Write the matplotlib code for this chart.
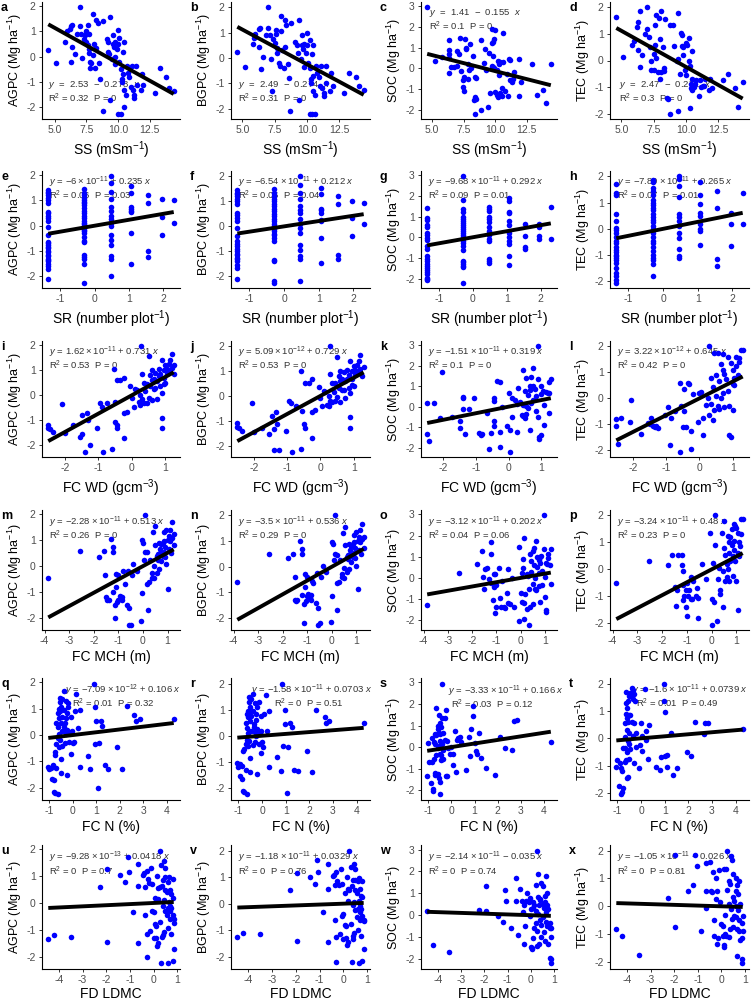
import matplotlib
matplotlib.use("Agg")
import matplotlib.pyplot as plt
import numpy as np

plt.rcParams['font.family'] = ['Liberation Sans', 'DejaVu Sans']
plt.rcParams['mathtext.fontset'] = 'custom'
plt.rcParams['mathtext.rm'] = 'Liberation Sans'
plt.rcParams['mathtext.it'] = 'Liberation Sans:italic'
plt.rcParams['mathtext.bf'] = 'Liberation Sans:bold'
plt.rcParams['mathtext.default'] = 'rm'
plt.rcParams['axes.unicode_minus'] = False

# ---- data (x, y) ----
pts_a = [(4.5,0.25),(5.1,-0.25),(5.8,0.6),(6.0,1.0),(6.2,1.1),(6.3,1.2),(6.4,1.25),(6.3,-0.2),(6.4,0.4),(6.6,0.1),
         (6.8,0.9),(7.0,1.95),(7.0,1.2),(7.1,0.9),(7.2,-0.05),(7.3,0.7),(7.4,0.85),(7.5,1.0),(7.5,0.6),(7.6,0.45),
         (7.6,1.25),(7.7,0.9),(7.7,0.3),(7.7,0.15),(7.8,-0.2),(7.8,-0.45),(7.9,-0.25),(8.0,1.7),(8.0,0.05),(8.1,0.5),
         (8.2,-0.45),(8.3,1.45),(8.3,0.35),(8.4,1.35),(8.5,-0.25),(8.6,-0.9),(8.8,1.4),(8.8,-2.15),(9.1,0.7),(9.2,0.6),
         (9.2,0.2),(9.3,0.1),(9.4,1.55),(9.4,-1.7),(9.5,-0.1),(9.6,0.85),(9.6,0.5),(9.7,0.4),(9.8,0.6),(9.8,-0.3),
         (9.8,0.0),(9.9,0.3),(10.0,1.05),(10.0,0.5),(10.1,-0.2),(10.1,0.75),(10.2,-0.5),(10.2,-2.25),(10.3,-0.9),(10.3,-1.0),
         (10.4,0.2),(10.4,-0.7),(10.5,0.6),(10.5,-1.3),(10.5,-2.0),(10.6,-1.5),(10.7,-0.35),(10.8,-0.65),(10.9,-0.8),(11.0,-1.2),
         (11.1,-0.35),(11.2,-1.3),(11.3,-1.5),(11.3,-1.65),(11.4,-0.35),(11.5,-1.1),(11.8,-1.3),(11.9,-0.7),(12.0,-1.1),(12.9,-1.45),
         (13.3,-0.45),(13.8,-0.8),(14.0,-1.25),(14.4,-1.35),(10.0,-2.25)]
pts_b = [(4.6,0.25),(5.2,-0.35),(5.8,0.55),(5.9,0.8),(6.0,0.95),(6.3,1.15),(6.35,1.2),(6.3,0.45),(6.4,-0.45),(6.6,0.05),
         (6.8,0.9),(7.0,2.0),(7.0,1.2),(7.1,0.9),(7.2,-0.05),(7.3,-1.3),(7.4,0.75),(7.5,0.6),(7.6,0.95),(7.6,1.1),
         (7.7,0.4),(7.7,0.2),(7.8,-0.2),(7.9,-0.3),(8.0,1.65),(8.0,1.05),(8.1,0.3),(8.2,-0.4),(8.3,1.5),(8.3,0.45),
         (8.4,1.3),(8.5,-0.25),(8.6,-0.8),(8.7,-2.1),(8.8,1.4),(9.1,0.65),(9.2,0.5),(9.3,0.2),(9.4,1.5),(9.4,-1.65),
         (9.5,-0.05),(9.6,0.9),(9.6,0.5),(9.7,0.35),(9.8,0.55),(9.8,-0.35),(9.9,0.2),(10.0,1.0),(10.0,0.5),(10.1,-0.2),
         (10.2,0.7),(10.2,-0.4),(10.2,-2.2),(10.3,-0.85),(10.3,-1.0),(10.4,0.15),(10.4,-2.2),(10.5,-0.7),(10.5,0.5),(10.5,-1.3),
         (10.6,-2.2),(10.6,-1.45),(10.7,-0.3),(10.8,-0.6),(10.9,-0.75),(11.0,-1.1),(11.1,-0.3),(11.2,-1.2),(11.3,-1.5),(11.3,-1.4),
         (11.5,-0.3),(11.5,-1.0),(11.8,-1.3),(11.9,-0.6),(12.0,-1.1),(12.9,-1.4),(13.3,-0.6),(13.8,-0.75),(14.0,-1.1),(14.4,-1.25)]
pts_c = [(4.6,2.95),(5.2,0.35),(5.8,0.55),(6.3,1.35),(6.3,0.9),(6.3,0.7),(6.3,0.5),(6.3,-0.25),(6.5,0.05),(6.7,0.05),
         (7.0,0.85),(7.1,0.7),(7.2,1.45),(7.0,0.1),(7.3,-0.15),(7.4,-0.55),(7.4,-0.9),(7.5,-1.1),(7.5,-0.4),(7.6,1.4),
         (7.7,0.95),(7.7,1.0),(7.8,0.2),(7.8,-0.5),(7.9,-0.1),(8.0,1.15),(8.1,0.0),(8.2,0.6),(8.3,-1.55),(8.4,-2.2),
         (8.4,-1.4),(8.4,-0.4),(8.5,-1.5),(8.5,-0.45),(8.9,1.35),(8.9,-2.0),(9.1,0.25),(9.2,0.95),(9.3,-0.1),(9.4,-1.9),
         (9.5,0.75),(9.6,-1.2),(9.7,1.2),(9.7,0.1),(9.7,1.9),(9.8,1.25),(9.8,0.6),(9.8,0.05),(9.9,1.4),(9.9,0.0),
         (10.0,-1.15),(10.0,1.85),(10.1,-0.1),(10.1,-1.3),(10.2,0.35),(10.2,-1.4),(10.3,0.2),(10.3,-0.35),(10.4,-1.2),(10.4,0.3),
         (10.5,-0.95),(10.5,-1.35),(10.6,1.7),(10.6,0.3),(10.8,-1.1),(10.9,-0.3),(11.0,-1.35),(11.1,0.45),(11.2,0.4),(11.2,-0.55),
         (11.3,-0.65),(11.4,-0.5),(11.5,-0.2),(11.9,0.45),(11.9,-1.35),(12.0,-0.65),(12.9,0.2),(13.3,-1.3),(13.8,-1.05),(14.0,-1.7),
         (14.4,0.2)]
pts_d = [(4.6,1.65),(5.1,0.15),(5.8,0.6),(6.0,0.75),(6.2,1.25),(6.3,1.45),(6.4,1.85),(6.3,0.4),(6.4,-0.25),(6.6,0.2),
         (6.8,1.0),(7.0,2.0),(7.0,1.2),(7.1,0.9),(7.2,0.5),(7.3,-0.35),(7.3,0.0),(7.5,0.25),(7.5,-0.35),(7.6,0.6),
         (7.6,1.35),(7.7,1.7),(7.7,0.1),(7.8,-0.45),(7.9,1.6),(8.0,-0.7),(8.0,0.8),(8.1,-0.45),(8.1,1.85),(8.2,0.5),
         (8.3,-0.3),(8.3,-0.4),(8.4,1.55),(8.5,-1.4),(8.6,-1.45),(8.8,1.35),(8.8,-2.0),(9.0,1.35),(9.1,0.55),(9.3,0.0),
         (9.35,0.05),(9.4,1.8),(9.4,-1.9),(9.5,-0.5),(9.6,1.05),(9.7,0.95),(9.7,0.55),(9.8,0.2),(9.8,0.5),(9.9,-0.35),
         (10.0,0.65),(10.0,-0.55),(10.1,0.6),(10.2,0.0),(10.2,0.85),(10.3,-1.8),(10.3,-0.2),(10.4,-0.9),(10.4,-1.05),(10.5,0.35),
         (10.5,-1.1),(10.5,-0.7),(10.6,-1.0),(10.7,-0.9),(10.8,-0.75),(11.0,-1.35),(11.1,-0.75),(11.2,-1.0),(11.3,-0.95),(11.4,-0.95),
         (11.5,-0.7),(11.8,-1.1),(11.9,-0.7),(12.0,-1.05),(12.9,-0.75),(13.3,-0.5),(13.8,-1.05),(14.0,-1.75),(14.4,-0.8)]

# SR is discrete: y values listed per SR level
sr_levels = [-1.35, -0.3, 0.47, 1.07, 1.55, 1.95, 2.3]
e_by_level = [[1.4,1.35,1.3,1.2,1.1,1.0,0.9,0.55,0.5,0.4,0.3,0.2,-0.05,-0.35,-0.65,-0.7,-0.75,-0.85,-0.9,-1.0,
               -1.05,-1.15,-1.2,-1.3,-1.35,-1.4,-1.5,-1.6,-1.7,-2.1],
              [1.45,1.3,1.2,1.1,1.0,0.95,0.9,0.8,0.7,0.6,0.5,0.4,0.3,0.2,0.1,0.05,0.0,-0.1,-0.15,-0.2,
               -0.3,-0.45,-0.6,-0.65,-1.15,-1.25,-1.3,-1.5,-2.25],
              [1.95,1.7,1.35,1.05,0.75,0.6,0.4,0.25,0.1,0.0,-0.35,-0.55,-0.75,-1.2,-1.3,-2.0],
              [1.55,1.3,0.75,0.65,0.6,0.55,-0.3,-1.5],
              [1.2,0.9,-1.0,-1.25],
              [1.05,0.35,-0.35],
              [1.0,0.1]]
f_by_level = [[1.45,1.35,1.3,1.2,1.1,1.0,0.9,0.55,0.45,0.35,0.2,-0.05,-0.4,-0.6,-0.7,-0.8,-0.9,-1.0,-1.1,-1.15,
               -1.25,-1.3,-1.4,-1.55,-1.65,-2.1],
              [1.5,1.35,1.2,1.1,1.0,0.9,0.8,0.7,0.6,0.5,0.4,0.3,0.2,0.1,0.0,-0.1,-0.2,-0.3,-0.35,-0.45,
               -0.6,-1.35,-1.4,-2.2,-2.25],
              [2.0,1.65,1.35,1.1,0.8,0.65,0.55,0.3,0.1,-0.05,-0.25,-0.75,-0.95,-1.2,-1.3,-2.2],
              [1.55,1.3,0.7,0.65,0.55,0.25,0.2,-0.45,-1.45],
              [1.2,0.9,-1.15,-1.3],
              [1.0,0.35,-0.4],
              [0.95,0.1]]
g_by_level = [[1.4,0.95,0.85,0.6,0.5,0.2,0.1,-0.05,-0.15,-0.4,-0.55,-0.9,-1.05,-1.15,-1.3,-1.4,-1.5,-1.6,-1.7,-1.8,
               -1.95,-2.0,-2.05],
              [2.95,1.8,1.35,1.2,1.0,0.9,0.8,0.7,0.6,0.5,0.4,0.3,0.2,0.1,0.0,-0.1,-0.2,-0.3,-0.4,-0.6,
               -1.15,-1.2,-1.3,-1.4,-1.45,-2.2],
              [1.45,1.35,1.25,1.0,0.9,0.75,0.5,0.3,0.2,0.1,-0.1,-0.2,-1.05,-1.15,-1.25],
              [1.9,1.75,1.2,1.15,0.8,0.6,0.2,0.0,-0.2,-0.35,-0.9,-1.35],
              [0.65,0.05,-0.45,-0.55],
              [0.65,0.5,0.05,-0.1],
              [1.45,-0.1]]
h_by_level = [[1.7,1.35,1.3,0.55,0.3,0.05,-0.05,-0.15,-0.3,-0.45,-0.55,-0.7,-0.8,-0.9,-1.0,-1.05,-1.1,-1.2,-1.3,-1.5,
               -1.7,-1.8,-1.95,-2.05],
              [1.85,1.8,1.55,1.45,1.3,1.1,1.0,0.9,0.8,0.7,0.55,0.45,0.35,0.25,0.1,0.0,-0.15,-0.3,-0.45,-0.55,
               -0.7,-0.85,-1.0,-1.1,-1.2,-1.35,-1.8],
              [2.0,1.9,1.65,1.2,0.55,0.45,0.3,0.1,-0.15,-0.35,-0.75,-1.05,-1.1],
              [1.8,1.3,0.95,0.6,0.5,0.2,0.0,-0.1,-0.6],
              [1.45,0.8,-1.15,-1.4],
              [0.6,0.2,-0.65],
              [1.35,0.2]]

pts_i = [(-2.5,-1.2),(-2.5,-1.3),(-2.45,-1.35),(-2.35,-1.45),(-2.1,-0.35),(-2.0,-1.5),(-1.75,-1.2),(-1.55,-1.65),(-1.5,-1.55),(-1.5,-0.8),
         (-1.4,-2.25),(-1.35,-0.7),(-1.3,-1.0),(-1.25,-2.0),(-1.05,-1.3),(-0.95,-0.3),(-0.9,-0.45),(-0.85,-2.25),(-0.75,-0.3),(-0.6,-2.15),
         (-0.55,1.05),(-0.5,-0.25),(-0.5,-1.05),(-0.45,-1.2),(-0.45,-1.3),(-0.45,0.6),(-0.35,0.6),(-0.25,0.7),(-0.25,-0.7),(-0.25,-1.7),
         (-0.15,-0.65),(-0.05,0.35),(0.0,-0.1),(0.05,-0.45),(0.1,0.25),(0.15,0.2),(0.2,-0.25),(0.25,-0.4),(0.25,0.0),(0.28,1.95),
         (0.3,-0.15),(0.3,0.85),(0.35,0.5),(0.35,-0.3),(0.4,0.15),(0.45,0.45),(0.45,-0.3),(0.5,-0.1),(0.5,1.55),(0.55,0.35),
         (0.55,0.8),(0.6,-0.2),(0.6,0.6),(0.6,1.0),(0.65,0.25),(0.65,0.65),(0.7,0.3),(0.7,0.9),(0.75,-0.15),(0.75,0.55),
         (0.8,0.75),(0.8,1.05),(0.85,0.85),(0.85,0.35),(0.9,0.1),(0.9,-0.9),(0.9,-1.3),(0.9,1.4),(0.95,0.45),(0.95,1.0),
         (1.0,1.2),(1.0,0.5),(1.05,0.85),(1.1,1.25),(1.1,0.95),(1.15,1.4),(1.2,1.1),(1.2,1.65),(1.25,0.85),(1.25,1.2),
         (0.95,0.7),(1.05,1.05)]
pts_j = [(-2.5,-1.1),(-2.5,-1.25),(-2.45,-1.3),(-2.35,-1.4),(-2.05,-0.3),(-2.0,-1.45),(-1.75,-1.3),(-1.55,-1.55),(-1.45,-0.8),(-1.4,-1.35),
         (-1.4,-2.2),(-1.35,-0.65),(-1.3,-1.15),(-1.25,-2.2),(-1.05,-1.4),(-0.95,-0.2),(-0.9,-0.3),(-0.85,-2.25),(-0.75,-0.4),(-0.6,-2.15),
         (-0.6,1.0),(-0.55,-0.6),(-0.5,-1.15),(-0.45,-1.3),(-0.45,0.5),(-0.35,0.5),(-0.25,0.7),(-0.25,-0.65),(-0.25,-1.7),(-0.15,-0.55),
         (-0.05,0.35),(0.0,-0.1),(0.05,-0.4),(0.1,0.2),(0.15,0.15),(0.2,-0.35),(0.25,-0.4),(0.25,0.0),(0.28,2.0),(0.3,-0.2),
         (0.3,0.9),(0.35,0.5),(0.35,-0.25),(0.4,0.15),(0.45,0.5),(0.45,-0.2),(0.5,-0.05),(0.5,1.55),(0.55,0.3),(0.55,0.8),
         (0.6,-0.25),(0.6,0.6),(0.6,1.0),(0.65,0.25),(0.65,0.7),(0.7,0.25),(0.7,0.95),(0.75,-0.1),(0.75,0.6),(0.8,0.7),
         (0.8,1.05),(0.85,0.85),(0.85,0.3),(0.9,0.1),(0.9,-0.85),(0.9,-1.3),(0.9,1.4),(0.95,0.45),(0.95,1.0),(1.0,1.2),
         (1.0,0.4),(1.05,0.85),(1.1,1.25),(1.1,0.95),(1.15,1.4),(1.2,1.1),(1.2,1.65),(1.25,0.8),(1.3,1.15),(0.95,0.7),
         (1.05,1.05)]
pts_k = [(-2.5,0.2),(-2.5,-1.35),(-2.45,-1.7),(-2.3,0.2),(-2.05,1.7),(-2.1,-0.55),(-1.75,-0.5),(-1.5,-0.7),(-1.5,-1.05),(-1.4,0.45),
         (-1.4,0.4),(-1.35,-1.35),(-1.4,-0.1),(-1.2,-0.1),(-1.05,0.4),(-0.9,-1.3),(-0.85,-1.4),(-0.8,-1.35),(-0.65,-0.3),(-0.6,-2.05),
         (-0.55,-1.3),(-0.45,0.4),(-0.45,0.3),(-0.45,-0.7),(-0.45,-0.95),(-0.35,1.25),(-0.25,1.2),(-0.25,-1.25),(-0.25,-1.95),(-0.2,0.0),
         (-0.05,-0.95),(0.0,0.65),(0.05,-1.15),(0.05,-2.2),(0.1,-0.5),(0.1,0.4),(0.2,0.35),(0.25,0.15),(0.25,-1.25),(0.3,0.9),
         (0.35,0.25),(0.4,-0.4),(0.45,1.8),(0.45,0.1),(0.45,-0.45),(0.5,0.75),(0.5,-0.55),(0.55,1.4),(0.55,0.05),(0.55,-0.35),
         (0.6,0.55),(0.6,-0.05),(0.65,1.0),(0.65,0.8),(0.65,-1.15),(0.7,1.45),(0.7,0.2),(0.75,1.9),(0.75,1.0),(0.75,0.35),
         (0.8,0.85),(0.85,0.5),(0.85,-0.2),(0.9,2.95),(0.9,1.35),(0.9,-0.5),(0.95,-1.5),(0.95,-1.6),(1.0,1.0),(1.0,0.6),
         (1.0,-1.4),(1.05,0.75),(1.1,0.1),(1.1,-0.9),(1.15,0.7),(1.2,0.65),(1.25,-0.3),(1.25,1.2),(1.3,1.35),(1.25,0.65)]
pts_l = [(-2.5,-0.8),(-2.5,-1.05),(-2.45,-1.75),(-2.35,-0.75),(-2.05,-0.05),(-2.1,-0.9),(-1.75,-1.35),(-1.55,-0.95),(-1.5,-1.0),(-1.45,-0.75),
         (-1.4,-1.05),(-1.35,-1.1),(-1.3,-1.05),(-1.25,-1.15),(-1.05,-0.65),(-0.95,-0.35),(-0.9,-1.8),(-0.85,-0.75),(-0.75,-0.5),(-0.6,-2.05),
         (-0.6,0.6),(-0.55,-0.3),(-0.5,-1.1),(-0.45,-0.5),(-0.45,0.35),(-0.4,-1.1),(-0.35,0.6),(-0.3,0.55),(-0.25,-1.95),(-0.25,-1.25),
         (-0.2,0.15),(-0.05,-0.9),(0.0,0.2),(0.05,0.25),(0.1,-0.75),(0.1,-1.4),(0.2,-0.25),(0.25,0.0),(0.3,2.0),(0.3,-0.65),
         (0.35,0.8),(0.35,-0.2),(0.4,-0.85),(0.4,0.45),(0.45,1.75),(0.45,-0.45),(0.5,0.9),(0.5,0.1),(0.55,1.75),(0.55,-0.3),
         (0.6,0.65),(0.6,-0.4),(0.65,1.3),(0.65,0.0),(0.7,1.1),(0.7,1.7),(0.7,0.2),(0.75,0.95),(0.75,-0.35),(0.8,0.75),
         (0.85,1.6),(0.85,0.3),(0.9,-0.3),(0.9,-1.4),(0.95,-1.5),(0.95,1.35),(1.0,0.55),(1.0,1.1),(1.05,0.8),(1.05,0.5),
         (1.1,1.25),(1.1,1.6),(1.15,0.9),(1.2,1.55),(1.25,1.85),(1.3,1.85),(1.2,1.4),(1.0,-0.45)]
pts_m = [(-3.85,-0.45),(-2.55,0.6),(-1.8,0.35),(-1.6,0.6),(-1.55,-0.35),(-1.5,-1.2),(-1.45,-1.3),(-1.4,-1.3),(-1.3,1.05),(-1.2,0.75),
         (-1.2,0.55),(-1.2,-1.0),(-1.15,-1.5),(-1.15,-2.0),(-1.1,-0.3),(-1.1,-0.8),(-1.05,-1.4),(-1.0,-0.35),(-1.0,-1.3),(-0.95,-1.15),
         (-0.9,-1.25),(-0.85,-1.3),(-0.85,-1.2),(-0.8,-0.2),(-0.75,-0.7),(-0.65,-1.5),(-0.6,-0.2),(-0.55,-1.6),(-0.55,-2.25),(-0.5,-2.25),
         (-0.45,-0.35),(-0.4,0.1),(-0.25,-0.2),(-0.1,-2.1),(-0.05,1.0),(-0.05,-1.05),(0.0,0.9),(0.05,0.25),(0.1,1.95),(0.1,0.55),
         (0.15,0.55),(0.15,-0.7),(0.2,-1.7),(0.25,-0.6),(0.3,0.25),(0.35,-0.45),(0.35,-0.25),(0.4,1.3),(0.45,0.0),(0.45,-0.45),
         (0.5,1.55),(0.5,0.8),(0.55,0.4),(0.55,-0.25),(0.6,0.25),(0.6,0.45),(0.65,-0.1),(0.65,0.9),(0.7,0.5),(0.7,0.65),
         (0.75,0.85),(0.75,0.2),(0.8,0.9),(0.8,0.4),(0.85,0.55),(0.85,1.3),(0.9,0.35),(0.9,0.75),(0.95,0.1),(0.95,1.4),
         (1.0,-0.9),(1.0,1.0),(1.05,0.65),(1.05,1.15),(1.1,1.4),(1.1,0.95),(1.15,0.5),(1.2,1.7),(1.2,1.1),(1.25,1.25),
         (1.25,0.8),(0.85,0.95)]
pts_n = [(-3.85,-0.6),(-2.55,0.5),(-1.8,0.35),(-1.6,0.5),(-1.5,-0.4),(-1.5,-1.3),(-1.45,-1.35),(-1.4,-1.3),(-1.3,1.0),(-1.2,0.7),
         (-1.2,0.5),(-1.2,-1.1),(-1.15,-1.45),(-1.15,-2.2),(-1.1,-0.3),(-1.1,-0.8),(-1.05,-1.35),(-1.0,-0.4),(-1.0,-1.15),(-0.95,-1.05),
         (-0.9,-1.2),(-0.85,-1.3),(-0.85,-1.1),(-0.8,-0.55),(-0.75,-0.65),(-0.65,-1.4),(-0.6,-0.25),(-0.55,-1.6),(-0.55,-2.25),(-0.5,-2.2),
         (-0.45,-0.4),(-0.35,0.05),(-0.25,-0.2),(-0.05,-2.15),(0.0,0.95),(0.0,-1.15),(0.05,0.9),(0.1,0.25),(0.15,2.0),(0.15,0.5),
         (0.2,0.45),(0.2,-0.65),(0.2,-1.7),(0.3,-0.6),(0.35,0.25),(0.4,-0.4),(0.4,-0.3),(0.45,1.3),(0.5,-0.05),(0.5,-0.45),
         (0.55,1.55),(0.55,0.85),(0.6,0.4),(0.6,-0.2),(0.65,0.3),(0.65,0.45),(0.7,-0.1),(0.7,0.9),(0.75,0.5),(0.75,0.65),
         (0.8,0.8),(0.8,0.2),(0.85,0.9),(0.85,0.4),(0.9,0.55),(0.9,1.25),(0.95,0.35),(0.95,0.75),(1.0,0.05),(1.0,1.35),
         (1.05,-0.85),(1.05,1.0),(1.1,0.65),(1.1,1.15),(1.15,1.45),(1.15,0.95),(1.2,0.5),(1.25,1.65),(1.25,1.1),(1.3,1.15),
         (1.3,0.75),(0.9,0.95)]
pts_o = [(-3.85,-1.3),(-2.55,0.25),(-1.8,0.65),(-1.6,1.25),(-1.55,0.05),(-1.5,-0.5),(-1.45,0.4),(-1.4,0.45),(-1.3,-0.05),(-1.2,1.7),
         (-1.2,1.15),(-1.2,-0.25),(-1.15,-1.05),(-1.1,0.2),(-1.1,-0.45),(-1.05,0.2),(-1.05,-1.65),(-1.0,-1.35),(-1.0,-0.35),(-0.9,0.45),
         (-0.85,-0.95),(-0.8,-1.35),(-0.75,-0.15),(-0.7,-1.35),(-0.65,-1.4),(-0.55,-0.7),(-0.5,-1.2),(-0.45,-1.25),(-0.5,0.4),(-0.35,0.0),
         (-0.25,-1.35),(-0.05,1.45),(-0.05,-2.05),(0.0,-0.7),(0.05,-1.15),(0.05,0.25),(0.1,0.9),(0.1,0.45),(0.15,-1.2),(0.15,-1.95),
         (0.15,1.9),(0.2,-0.75),(0.25,-1.45),(0.25,0.2),(0.3,0.1),(0.35,-2.2),(0.35,-0.5),(0.4,1.15),(0.4,-1.35),(0.45,0.3),
         (0.45,0.8),(0.5,-1.25),(0.5,-0.3),(0.5,1.25),(0.55,0.6),(0.55,1.4),(0.6,0.0),(0.6,-0.5),(0.65,-0.55),(0.65,1.75),
         (0.7,0.5),(0.7,1.0),(0.75,0.85),(0.75,0.25),(0.75,-0.4),(0.8,1.0),(0.8,0.7),(0.8,-1.15),(0.85,1.05),(0.9,0.35),
         (0.9,-0.35),(0.95,2.95),(0.95,1.35),(1.0,0.05),(1.0,-0.9),(1.05,-1.5),(1.05,-1.6),(1.05,0.7),(1.1,0.65),(1.15,0.95),
         (1.15,1.15),(1.2,0.6),(1.25,-0.3),(1.25,1.35)]
pts_p = [(-3.85,-0.5),(-2.55,0.3),(-1.75,0.15),(-1.6,0.55),(-1.5,-0.65),(-1.45,-1.35),(-1.4,-0.75),(-1.35,0.55),(-1.2,0.55),(-1.2,0.15),
         (-1.15,-1.15),(-1.15,-0.05),(-1.15,-0.6),(-1.1,-1.0),(-1.05,-0.75),(-1.05,-1.4),(-1.0,-1.75),(-1.0,-0.5),(-0.95,-1.0),(-0.9,-0.75),
         (-0.85,-1.1),(-0.85,-0.3),(-0.8,-1.1),(-0.75,-0.45),(-0.65,-1.0),(-0.6,-0.7),(-0.55,-1.8),(-0.55,-1.05),(-0.4,0.2),(-0.25,-0.35),
         (-0.05,1.35),(0.0,-1.1),(0.0,-2.05),(0.05,0.25),(0.1,-1.2),(0.15,2.0),(0.15,0.9),(0.2,-1.9),(0.25,-0.35),(0.3,0.05),
         (0.35,-0.75),(0.35,-0.9),(0.4,1.35),(0.45,-1.4),(0.45,-0.05),(0.5,1.8),(0.5,0.8),(0.55,-0.45),(0.55,0.55),(0.6,-0.3),
         (0.6,0.2),(0.65,1.25),(0.65,0.0),(0.7,1.0),(0.7,0.6),(0.7,-0.45),(0.75,1.2),(0.75,0.3),(0.8,1.5),(0.8,0.9),
         (0.85,0.5),(0.85,-0.25),(0.9,1.05),(0.9,1.7),(0.95,0.3),(0.95,1.6),(1.0,-0.45),(1.0,1.55),(1.05,1.35),(1.05,0.6),
         (1.05,-1.5),(1.1,1.0),(1.1,0.5),(1.15,0.85),(1.2,1.85),(1.25,1.85),(1.2,1.3),(0.9,0.7)]
pts_q = [(-1.05,-1.2),(-1.0,-1.3),(-0.95,-1.25),(-0.9,-1.65),(-0.85,-1.15),(-0.8,-1.7),(-0.8,-2.15),(-0.75,-2.2),(-0.75,-0.65),(-0.75,-0.75),
         (-0.7,-1.25),(-0.7,0.45),(-0.7,-0.35),(-0.65,-2.25),(-0.65,0.85),(-0.65,0.3),(-0.65,-0.1),(-0.6,1.0),(-0.6,0.65),(-0.6,0.05),
         (-0.6,-0.45),(-0.55,1.4),(-0.55,1.25),(-0.55,0.9),(-0.55,-0.2),(-0.5,1.05),(-0.5,0.45),(-0.5,-1.45),(-0.5,-0.9),(-0.45,0.7),
         (-0.45,0.15),(-0.45,-0.4),(-0.4,1.65),(-0.4,0.95),(-0.4,0.3),(-0.35,0.45),(-0.35,0.15),(-0.35,-0.3),(-0.3,1.3),(-0.3,0.65),
         (-0.3,0.05),(-0.25,0.2),(-0.25,-1.5),(-0.2,1.2),(-0.2,1.05),(-0.15,0.1),(-0.1,0.7),(-0.1,-0.7),(0.0,-0.3),(0.05,-0.25),
         (0.1,0.9),(0.15,1.55),(0.2,0.25),(0.3,0.95),(0.3,-1.2),(0.65,-0.8),(0.75,-1.3),(0.9,1.95),(0.95,1.05),(0.95,-0.35),
         (1.0,0.55),(1.05,-2.0),(1.1,-0.3),(1.2,0.55),(1.25,0.35),(1.35,-1.15),(1.5,-1.3),(1.9,-0.45),(2.1,-1.3),(2.3,1.1),
         (2.6,0.75),(2.7,0.55),(2.85,0.6),(4.3,0.6),(-0.25,0.85),(-0.15,-0.25),(-0.05,0.15),(-0.45,1.35)]
pts_r = [(-1.05,-1.05),(-1.0,-1.2),(-0.95,-1.1),(-0.95,-1.55),(-0.85,-1.15),(-0.85,-1.65),(-0.8,-2.1),(-0.75,-2.15),(-0.8,-0.6),(-0.75,-0.5),
         (-0.7,-1.3),(-0.7,0.5),(-0.7,-0.3),(-0.65,-2.25),(-0.65,0.85),(-0.65,0.3),(-0.65,-0.15),(-0.6,0.95),(-0.6,0.7),(-0.6,0.1),
         (-0.6,-0.4),(-0.55,1.5),(-0.55,1.3),(-0.55,0.9),(-0.55,-0.2),(-0.5,1.1),(-0.5,0.55),(-0.5,-1.4),(-0.5,-0.85),(-0.45,0.75),
         (-0.45,0.2),(-0.4,-0.35),(-0.4,1.6),(-0.4,0.95),(-0.35,0.35),(-0.35,0.45),(-0.3,0.15),(-0.3,-0.25),(-0.3,1.25),(-0.25,0.6),
         (-0.25,0.0),(-0.2,0.25),(-0.2,-1.45),(-0.15,1.3),(-0.2,1.1),(-0.1,0.1),(-0.05,0.75),(-0.05,-0.65),(0.0,-0.25),(0.05,-0.45),
         (0.1,0.85),(0.15,1.55),(0.2,0.2),(0.3,0.95),(0.3,-1.2),(0.65,-0.8),(0.8,-1.35),(0.85,2.0),(0.95,1.0),(0.9,-0.4),
         (0.95,0.45),(1.05,-2.2),(1.1,-0.45),(1.2,0.5),(1.25,0.35),(1.35,-1.3),(1.5,-1.35),(1.9,-0.6),(2.1,-1.4),(2.3,1.0),
         (2.65,0.7),(2.7,0.5),(2.85,0.55),(4.3,0.5),(-0.25,0.85),(-0.15,-0.3),(-0.05,0.2),(-0.45,1.4)]
pts_s = [(-1.05,-1.35),(-1.0,0.2),(-0.95,-0.7),(-0.9,-1.65),(-0.85,-0.7),(-0.85,0.4),(-0.8,-2.05),(-0.8,-1.95),(-0.75,-0.55),(-0.75,0.25),
         (-0.7,-1.2),(-0.7,-1.3),(-0.7,0.15),(-0.65,1.8),(-0.65,0.55),(-0.65,-0.35),(-0.6,1.0),(-0.6,0.85),(-0.6,-1.25),(-0.6,-0.05),
         (-0.55,1.5),(-0.55,0.65),(-0.55,0.05),(-0.55,-1.45),(-0.5,-2.2),(-0.5,1.1),(-0.5,0.6),(-0.5,-0.3),(-0.5,-1.6),(-0.45,0.95),
         (-0.45,-0.35),(-0.45,-0.6),(-0.4,2.95),(-0.4,1.35),(-0.4,0.15),(-0.35,-0.15),(-0.35,-0.55),(-0.35,0.65),(-0.3,1.35),(-0.3,0.35),
         (-0.25,-1.35),(-0.25,1.7),(-0.2,0.3),(-0.2,-1.35),(-0.15,-0.05),(-0.05,-0.3),(0.0,0.0),(0.05,-0.85),(0.05,-0.3),(0.15,0.75),
         (0.2,-1.15),(0.25,0.35),(0.3,0.4),(0.35,0.45),(0.4,0.25),(0.65,-1.05),(0.75,0.45),(0.8,-0.4),(0.85,0.85),(0.95,1.45),
         (0.95,1.9),(1.0,0.2),(1.05,-0.2),(1.1,-0.3),(1.2,0.65),(1.3,-0.5),(1.5,-0.95),(1.9,-1.3),(2.1,0.45),(2.3,-0.05),
         (2.6,-0.15),(2.7,1.2),(2.85,1.25),(4.3,0.25),(-0.7,0.6),(-0.5,0.3)]
pts_t = [(-1.05,-1.05),(-1.0,-0.8),(-0.95,-1.75),(-0.9,-0.9),(-0.85,-1.1),(-0.85,-2.05),(-0.8,-1.95),(-0.8,-1.2),(-0.75,-0.35),(-0.75,-1.8),
         (-0.7,-0.85),(-0.7,-0.35),(-0.7,0.55),(-0.65,1.7),(-0.65,1.3),(-0.65,0.9),(-0.65,-0.8),(-0.6,1.1),(-0.6,0.75),(-0.6,0.3),
         (-0.6,-0.5),(-0.6,-1.45),(-0.55,1.35),(-0.55,0.6),(-0.55,-1.4),(-0.55,-0.1),(-0.5,1.55),(-0.5,0.85),(-0.5,0.2),(-0.5,-0.2),
         (-0.45,1.65),(-0.45,0.85),(-0.45,-0.4),(-0.4,1.85),(-0.4,1.5),(-0.4,0.6),(-0.35,1.75),(-0.35,1.45),(-0.35,0.1),(-0.3,1.6),
         (-0.3,0.55),(-0.3,-0.9),(-0.25,1.35),(-0.2,0.2),(-0.2,-0.3),(-0.1,-1.1),(-0.05,-0.25),(0.0,0.55),(0.05,0.1),(0.05,-0.45),
         (0.15,1.8),(0.2,0.25),(0.2,-0.05),(0.3,-0.75),(0.35,0.5),(0.65,-1.05),(0.8,-1.15),(0.85,-0.7),(0.95,2.0),(0.95,1.35),
         (1.0,0.95),(1.0,-0.65),(1.1,-1.05),(1.1,-0.6),(1.25,0.2),(1.35,-1.35),(1.5,-1.1),(1.95,-0.5),(2.1,-0.65),(2.3,0.6),
         (2.65,0.15),(2.7,0.55),(2.85,0.55),(4.3,0.35),(-0.7,0.05),(-0.5,-0.75)]
pts_u = [(-4.45,-1.35),(-4.2,-1.2),(-3.5,-1.25),(-2.25,0.6),(-1.95,-1.45),(-1.95,1.25),(-1.4,1.05),(-1.2,0.8),(-1.1,1.7),(-1.05,1.15),
         (-0.85,-0.35),(-0.65,1.45),(-0.65,0.65),(-0.65,-1.5),(-0.45,1.05),(-0.4,1.1),(-0.35,0.6),(-0.35,-0.45),(-0.3,-1.15),(-0.3,-2.0),
         (-0.3,1.2),(-0.25,0.9),(-0.2,0.75),(-0.15,-1.05),(-0.1,1.3),(-0.05,0.7),(-0.05,-0.3),(0.0,-0.35),(0.0,-1.3),(0.05,0.2),
         (0.05,-0.8),(0.1,-1.3),(0.1,-0.85),(0.15,1.0),(0.15,-1.6),(0.2,0.15),(0.2,-1.5),(0.25,1.95),(0.25,0.6),(0.25,-0.7),
         (0.3,1.4),(0.3,-2.25),(0.35,0.65),(0.35,-1.25),(0.4,0.85),(0.4,-1.2),(0.45,1.55),(0.45,0.1),(0.45,-1.1),(0.5,0.95),
         (0.5,-0.3),(0.5,0.5),(0.55,0.4),(0.55,-0.45),(0.6,0.8),(0.6,-0.2),(0.6,-0.95),(0.6,-2.25),(0.65,0.95),(0.65,0.05),
         (0.65,-0.25),(0.7,0.5),(0.7,-0.3),(0.7,-0.1),(0.75,0.35),(0.75,-0.2),(0.75,-1.15),(0.8,0.9),(0.8,0.2),(0.8,-0.45),
         (0.8,-2.15),(0.85,-0.6),(0.85,-1.7),(0.85,-0.75),(0.7,-0.6),(0.5,1.3),(0.2,0.55),(0.4,-0.1)]
pts_v = [(-4.45,-1.25),(-4.2,-1.1),(-3.5,-1.15),(-2.25,0.5),(-1.95,-1.4),(-1.95,1.15),(-1.4,1.0),(-1.2,0.75),(-1.1,1.65),(-1.05,1.2),
         (-0.85,-0.3),(-0.65,1.5),(-0.65,0.55),(-0.65,-1.45),(-0.45,1.05),(-0.4,1.1),(-0.35,0.7),(-0.35,-0.6),(-0.3,-1.25),(-0.3,-2.2),
         (-0.3,1.2),(-0.25,0.85),(-0.2,0.7),(-0.15,-1.15),(-0.1,1.3),(-0.05,0.75),(-0.05,-0.45),(0.0,-0.4),(0.0,-1.35),(0.05,0.4),
         (0.05,-0.8),(0.1,-1.3),(0.1,-0.85),(0.15,1.0),(0.15,-1.55),(0.2,0.1),(0.2,-1.45),(0.25,2.0),(0.25,0.5),(0.3,-0.75),
         (0.3,1.4),(0.35,-2.2),(0.35,0.65),(0.4,-1.35),(0.4,0.9),(0.4,-1.2),(0.45,1.5),(0.45,0.05),(0.45,-1.1),(0.5,0.9),
         (0.5,-0.25),(0.5,0.5),(0.55,0.4),(0.55,-0.5),(0.6,0.85),(0.6,-0.2),(0.6,-1.0),(0.65,-2.25),(0.65,0.95),(0.65,0.1),
         (0.65,-0.25),(0.7,0.55),(0.7,-0.3),(0.7,-0.1),(0.75,0.3),(0.75,-0.2),(0.75,-1.2),(0.8,0.85),(0.8,0.25),(0.8,-0.45),
         (0.8,-2.15),(0.85,-0.6),(0.85,-1.7),(0.85,-0.65),(0.7,-0.6),(0.5,1.3),(0.2,0.55),(0.4,-0.05)]
pts_w = [(-4.45,0.2),(-4.2,-1.35),(-3.5,-1.7),(-2.25,0.25),(-1.95,1.35),(-1.95,0.2),(-1.4,-0.05),(-1.2,-0.3),(-1.1,1.15),(-1.05,0.65),
         (-0.85,-0.6),(-0.65,1.7),(-0.65,0.65),(-0.55,-0.9),(-0.45,1.2),(-0.4,0.65),(-0.35,0.15),(-0.3,0.45),(-0.3,-1.3),(-0.25,-0.5),
         (-0.2,0.65),(-0.15,1.0),(-0.1,0.6),(-0.05,-0.05),(-0.05,0.8),(0.0,-1.45),(0.0,0.3),(0.05,-1.5),(0.05,-1.55),(0.1,0.6),
         (0.1,-1.05),(0.15,0.45),(0.15,-0.6),(0.2,1.4),(0.2,0.2),(0.2,-0.35),(0.25,2.95),(0.25,-0.7),(0.25,-1.4),(0.3,1.9),
         (0.3,0.85),(0.3,0.05),(0.35,-1.3),(0.35,0.45),(0.4,-0.2),(0.4,0.75),(0.45,1.45),(0.45,-0.45),(0.45,-1.0),(0.5,1.35),
         (0.5,0.5),(0.5,-0.1),(0.55,0.35),(0.55,-0.75),(0.6,0.9),(0.6,-1.2),(0.65,1.8),(0.65,0.15),(0.65,-0.3),(0.7,1.0),
         (0.7,0.45),(0.7,-0.5),(0.75,-1.3),(0.75,0.3),(0.8,-0.35),(0.8,-0.6),(0.8,-1.95),(0.85,-2.2),(0.85,-2.0),(0.85,-1.0),
         (0.85,-0.6),(0.6,0.6),(0.4,0.7),(0.1,0.35)]
pts_x = [(-4.45,-0.8),(-4.2,-1.05),(-3.5,-1.75),(-2.25,0.3),(-1.95,-0.75),(-1.95,1.85),(-1.4,0.55),(-1.2,0.75),(-1.1,1.85),(-1.05,1.45),
         (-0.85,-0.9),(-0.65,1.55),(-0.65,0.55),(-0.65,-0.05),(-0.5,1.6),(-0.45,0.55),(-0.4,0.5),(-0.35,1.25),(-0.3,-0.5),(-0.3,-1.05),
         (-0.25,1.0),(-0.25,0.25),(-0.2,0.55),(-0.2,-1.35),(-0.15,-1.15),(-0.1,1.3),(-0.05,0.15),(0.0,-0.65),(0.05,-0.7),(0.05,-1.05),
         (0.1,1.35),(0.1,-1.4),(0.1,-1.45),(0.15,-0.3),(0.15,-1.0),(0.2,1.35),(0.2,-1.05),(0.25,2.0),(0.25,0.6),(0.3,0.9),
         (0.3,-1.1),(0.35,-0.8),(0.35,0.8),(0.4,1.8),(0.4,-0.1),(0.45,1.65),(0.45,-0.45),(0.5,1.15),(0.5,0.35),(0.5,-0.75),
         (0.55,0.2),(0.55,-0.35),(0.6,1.0),(0.6,0.0),(0.6,-0.4),(0.65,-1.8),(0.65,0.75),(0.65,-0.8),(0.7,0.45),(0.7,-0.15),
         (0.75,0.9),(0.75,-0.5),(0.75,-0.9),(0.8,0.1),(0.8,-1.2),(0.85,-2.05),(0.85,-1.9),(0.85,-0.6),(0.85,-1.15),(0.9,-0.35),
         (0.9,-0.9),(0.6,0.55),(0.3,0.1)]

# fitted equations printed on each panel (a..x)
intercepts = [2.53, 2.49, 1.41, 2.47,
              -6e-11, -6.54e-11, -9.68e-11, -7.89e-11,
              1.62e-11, 5.09e-12, -1.51e-11, 3.22e-12,
              -2.28e-11, -3.5e-11, -3.12e-11, -3.24e-11,
              -7.09e-12, -1.58e-11, -3.33e-11, -1.6e-11,
              -9.28e-13, -1.18e-11, -2.14e-11, -1.05e-11]
slopes = [-0.278, -0.274, -0.155, -0.271,
          0.235, 0.212, 0.292, 0.265,
          0.731, 0.729, 0.319, 0.645,
          0.513, 0.536, 0.202, 0.48,
          0.106, 0.0703, 0.166, 0.0739,
          0.0418, 0.0329, -0.035, -0.026]
r2_vals = ["0.32", "0.31", "0.1", "0.3", "0.06", "0.05", "0.09", "0.07",
           "0.53", "0.53", "0.1", "0.42", "0.26", "0.29", "0.04", "0.23",
           "0.01", "0", "0.03", "0.01", "0", "0", "0", "0"]
p_vals = ["0", "0", "0", "0", "0.03", "0.04", "0.01", "0.01",
          "0", "0", "0", "0", "0", "0", "0.06", "0",
          "0.32", "0.51", "0.12", "0.49", "0.7", "0.76", "0.74", "0.81"]

responses = ["AGPC", "BGPC", "SOC", "TEC"]
predictors = ["SS (mSm$^{-1}$)", "SR (number plot$^{-1}$)", "FC WD (gcm$^{-3}$)",
              "FC MCH (m)", "FC N (%)", "FD LDMC"]
row_xticks = [[5, 7.5, 10, 12.5], [-1, 0, 1, 2], [-2, -1, 0, 1],
              [-4, -3, -2, -1, 0, 1], [-1, 0, 1, 2, 3, 4], [-4, -3, -2, -1, 0, 1]]


def sr_pairs(by_level):
    out = []
    for lev, ys in zip(sr_levels, by_level):
        out += [(lev, y) for y in ys]
    return out


panels = [pts_a, pts_b, pts_c, pts_d,
          sr_pairs(e_by_level), sr_pairs(f_by_level), sr_pairs(g_by_level), sr_pairs(h_by_level),
          pts_i, pts_j, pts_k, pts_l, pts_m, pts_n, pts_o, pts_p,
          pts_q, pts_r, pts_s, pts_t, pts_u, pts_v, pts_w, pts_x]

MINUS = "\u2212"
THIN = "\u2009"


def fmt_num(v):
    if abs(v) >= 1e-3:
        return ("%g" % v).replace("-", MINUS)
    e = int(np.floor(np.log10(abs(v))))
    m = ("%.3g" % (v / 10 ** e)).replace("-", MINUS)
    return m + THIN + "\u00d7" + THIN + "10$^{%d}$" % e


def eq_label(b0, b1):
    gap = "  " if abs(b0) >= 1e-3 else " "
    sign = gap + (MINUS if b1 < 0 else "+") + gap
    return ("$\\mathit{y}$" + gap + "=" + gap + fmt_num(b0) + sign
            + ("%g" % abs(b1)) + gap + "$\\mathit{x}$")


# layout in pixels
W, H = 751, 1000
col_l = [42, 231, 421, 610]
col_r = [180, 370, 557, 749]
row_tb = [(2, 119), (171, 288), (341, 457), (510, 630), (678, 800), (845, 969)]
lab_pos = {0: (0.047, 0.29, 0.047, 0.18), 1: (0.048, 0.29, 0.048, 0.18),
           2: (0.06, 0.905, 0.06, 0.795), 3: (0.064, 0.287, 0.064, 0.18),
           16: (0.17, 0.90, 0.217, 0.79), 17: (0.144, 0.90, 0.31, 0.79),
           18: (0.198, 0.89, 0.224, 0.785), 19: (0.158, 0.90, 0.19, 0.79)}

fig = plt.figure(figsize=(W / 100, H / 100), dpi=100)
letters = "abcdefghijklmnopqrstuvwx"

for k, pts in enumerate(panels):
    r, c = divmod(k, 4)
    top, bot = row_tb[r]
    ax = fig.add_axes([col_l[c] / W, 1 - bot / H, (col_r[c] - col_l[c]) / W, (bot - top) / H])
    xs = np.array([p[0] for p in pts])
    ys = np.array([p[1] for p in pts])
    ax.scatter(xs, ys, s=16, color="#0000FF", linewidths=0, zorder=2)
    xl = np.array([xs.min(), xs.max()])
    ax.plot(xl, intercepts[k] + slopes[k] * xl, color="black", lw=2.8,
            solid_capstyle="butt", zorder=3)
    ax.set_xlim(xs.min() - 0.05 * np.ptp(xs), xs.max() + 0.05 * np.ptp(xs))
    ax.set_ylim(ys.min() - 0.05 * np.ptp(ys), ys.max() + 0.05 * np.ptp(ys))
    ax.set_xticks(row_xticks[r])
    if r == 0:
        ax.set_xticklabels(["%.1f" % t for t in row_xticks[r]])
    yt = [-2, -1, 0, 1, 2, 3] if c == 2 else [-2, -1, 0, 1, 2]
    ax.set_yticks(yt)
    for s in ["top", "right"]:
        ax.spines[s].set_visible(False)
    for s in ["left", "bottom"]:
        ax.spines[s].set_linewidth(0.8)
    ax.tick_params(length=2.5, width=0.7, color="#333333", labelsize=7.5,
                   labelcolor="#4D4D4D", pad=2)
    ax.set_xlabel(predictors[r], fontsize=10, labelpad=1 if r == 5 else 3)
    ax.set_ylabel(responses[c] + " (Mg ha$^{-1}$)", fontsize=9, labelpad=2)
    fx1, fy1, fx2, fy2 = lab_pos.get(k, (0.05, 0.90, 0.05, 0.79))
    ax.text(fx1, fy1, eq_label(intercepts[k], slopes[k]), transform=ax.transAxes,
            fontsize=6.8, va="center", ha="left", color="#333333", zorder=1)
    ax.text(fx2, fy2, "R$^{2}$ = %s  P = %s" % (r2_vals[k], p_vals[k]),
            transform=ax.transAxes, fontsize=6.8, va="center", ha="left",
            color="#333333", zorder=1)
    fig.text((col_l[c] - 41) / W, 1 - top / H, letters[k], fontsize=9,
             fontweight="bold", va="top", ha="left")

fig.savefig("out.png", dpi=100)
